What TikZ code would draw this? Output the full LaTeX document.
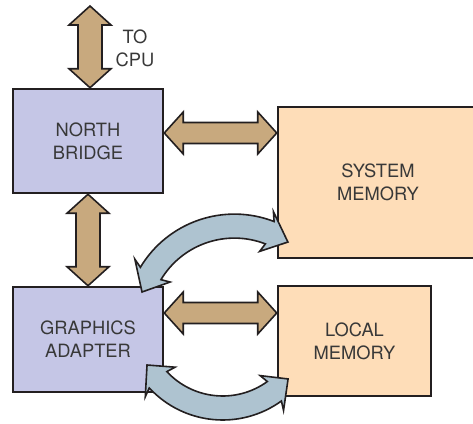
\documentclass[tikz,border=0pt]{standalone}
\usepackage{fontspec}
\setmainfont{TeX Gyre Heros}
\usepackage{tikz}
\usetikzlibrary{calc}
\definecolor{chipcolor}{HTML}{C5C6E6}
\definecolor{memcolor}{HTML}{FEDDB8}
\definecolor{buscolor}{HTML}{C8A97E}
\definecolor{copycolor}{HTML}{AEC3D0}
\definecolor{inkcolor}{HTML}{231F20}
\definecolor{labelcolor}{HTML}{383838}

% fat two-headed bus arrow between two named points
\newcommand{\busarrow}[3][12]{%
  \draw[bus] (#2) -- ($(#2)!19pt!(#3)!21pt!90:(#3)$) -- ($(#2)!19pt!(#3)!#1pt!90:(#3)$)
    -- ($(#3)!19pt!(#2)!#1pt!-90:(#2)$) -- ($(#3)!19pt!(#2)!21pt!-90:(#2)$) -- (#3)
    -- ($(#3)!19pt!(#2)!21pt!90:(#2)$) -- ($(#3)!19pt!(#2)!#1pt!90:(#2)$)
    -- ($(#2)!19pt!(#3)!#1pt!-90:(#3)$) -- ($(#2)!19pt!(#3)!21pt!-90:(#3)$) -- cycle;}
% curved two-headed arrow: centre, radius, from angle, to angle
\newcommand{\looparrow}[4]{%
  \draw[copy, shift={(#1)}] ({#3+12}:{#2+12})
    arc[start angle={#3+12}, end angle={#4-12}, radius={#2+12}]
    -- ({#4-14}:{#2+21}) -- (#4:#2) -- ({#4-14}:{#2-21}) -- ({#4-12}:{#2-12})
    arc[start angle={#4-12}, end angle={#3+12}, radius={#2-12}]
    -- ({#3+14}:{#2-21}) -- (#3:#2) -- ({#3+14}:{#2+21}) -- cycle;}

\begin{document}
\begin{tikzpicture}[x=1pt, y=1pt,
  chip/.style={draw=inkcolor, line width=2.5pt, fill=chipcolor, inner sep=0pt,
               minimum width=150pt, align=center, text=labelcolor,
               font=\fontsize{18.3}{23}\selectfont},
  mem/.style={chip, fill=memcolor},
  bus/.style={draw=inkcolor, line width=1.6pt, fill=buscolor, line join=miter},
  copy/.style={draw=inkcolor, line width=1.6pt, fill=copycolor, line join=miter},
  lbl/.style={align=center, text=labelcolor, font=\fontsize{18.3}{23}\selectfont},
]
  \useasboundingbox (0,0) rectangle (473,423);
  \clip (0,0) rectangle (473,423);

  \node[chip, minimum height=104pt] (nb) at (88, 282) {NORTH\\BRIDGE};
  \node[mem, minimum width=200pt, minimum height=151pt] (sys) at (378, 240.5) {SYSTEM\\MEMORY};
  \node[chip, minimum height=105pt] (ga) at (88, 83.5) {GRAPHICS\\ADAPTER};
  \node[mem, minimum width=153pt, minimum height=110pt] (lm) at (354.5, 82) {LOCAL\\MEMORY};
  \node[lbl] (cpulbl) at (135, 375) {TO\\CPU};

  \coordinate (cpu) at (90, 417);
  \coordinate (nbtop) at (cpu |- nb.north);
  \coordinate (nbr) at ($(nb.east)+(0,8)$);
  \coordinate (smw) at (sys.west |- nbr);
  \coordinate (gar) at ($(ga.east)+(0,26.5)$);
  \coordinate (lmw) at (lm.west |- gar);

  \busarrow{cpu}{nbtop}
  \busarrow[10.5]{nbr}{smw}
  \busarrow{nb.south}{ga.north}
  \busarrow[10.5]{gar}{lmw}

  \coordinate (upc) at (234.4, 99.2);
  \coordinate (loc) at (222.7, 103.1);
  \looparrow{upc}{97.7}{56.8}{161}
  \looparrow{loc}{88.1}{210.8}{317.9}
\end{tikzpicture}
\end{document}
